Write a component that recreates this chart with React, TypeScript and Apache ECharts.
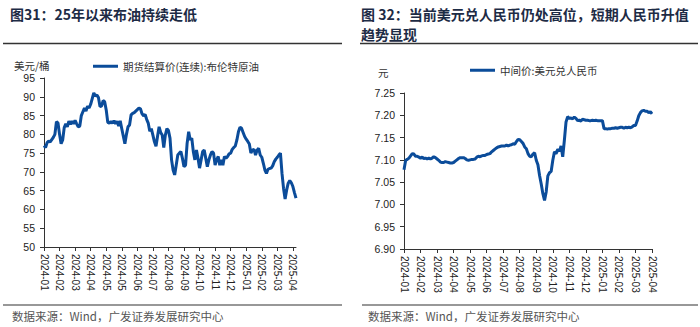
import React, { useEffect, useRef } from "react";
import * as echarts from "echarts";

const leftTitle = "图31：25年以来布油持续走低";
const rightTitle1 = "图 32：当前美元兑人民币仍处高位，短期人民币升值";
const rightTitle2 = "趋势显现";
const sourceText = "数据来源：Wind，广发证券发展研究中心";

const leftUnit = "美元/桶";
const rightUnit = "元";
const leftSeriesName = "期货结算价(连续):布伦特原油";
const rightSeriesName = "中间价:美元兑人民币";

const leftTicks = [
  "2024-01", "2024-02", "2024-03", "2024-04", "2024-05", "2024-05", "2024-06", "2024-07",
  "2024-08", "2024-09", "2024-10", "2024-11", "2024-12", "2025-01", "2025-02", "2025-03", "2025-04",
];
const rightTicks = [
  "2024-01", "2024-02", "2024-03", "2024-04", "2024-05", "2024-06", "2024-07", "2024-08",
  "2024-09", "2024-10", "2024-11", "2024-12", "2025-01", "2025-02", "2025-03", "2025-04",
];

// Brent futures settlement (USD/bbl)
const brent = [
  77.0, 76.5, 77.8, 78.2, 78.0, 78.6, 79.2, 80.0, 83.4, 83.0,
  80.0, 77.5, 78.5, 81.8, 82.8, 82.0, 83.5, 82.7, 83.5, 82.8,
  83.7, 82.8, 82.0, 82.2, 85.0, 86.0, 87.0, 86.2, 87.5, 87.0,
  88.0, 89.5, 91.0, 90.2, 90.5, 89.8, 87.4, 87.5, 89.0, 88.7,
  86.5, 83.2, 83.0, 83.4, 83.0, 83.6, 82.8, 83.5, 82.2, 83.6,
  81.5, 79.5, 77.5, 80.0, 82.0, 82.5, 85.2, 85.6, 85.8, 86.2,
  86.6, 87.0, 86.8, 85.5, 84.9, 85.3, 84.0, 83.0, 80.8, 81.5,
  79.8, 78.0, 76.8, 79.5, 82.0, 80.5, 79.8, 76.5, 79.8, 81.5,
  81.0, 79.0, 73.2, 70.5, 69.2, 71.8, 74.5, 75.0, 75.4, 73.6,
  71.4, 71.8, 77.6, 80.7, 78.5, 79.0, 75.4, 73.2, 75.8, 73.6,
  71.0, 73.2, 75.4, 75.8, 73.6, 71.4, 73.2, 74.5, 75.4, 75.0,
  71.8, 73.2, 74.1, 71.8, 73.2, 71.8, 74.1, 73.6, 74.1, 74.8,
  75.0, 76.0, 76.5, 76.9, 78.5, 80.7, 81.9, 81.6, 80.5, 79.4,
  78.7, 78.1, 77.4, 75.0, 75.8, 76.0, 74.5, 75.8, 76.3, 74.5,
  73.9, 72.3, 70.5, 69.6, 70.7, 70.9, 71.0, 71.6, 72.7, 73.4,
  73.9, 74.5, 75.0, 69.6, 65.6, 62.8, 65.2, 67.0, 67.7, 67.1,
  66.1, 64.5, 63.0,
];

// USD/CNY central parity
const usdcny = [
  7.078, 7.099, 7.101, 7.104, 7.109, 7.114, 7.113, 7.108, 7.108, 7.106,
  7.104, 7.106, 7.103, 7.104, 7.102, 7.104, 7.102, 7.104, 7.107, 7.105,
  7.102, 7.099, 7.095, 7.094, 7.094, 7.096, 7.095, 7.094, 7.093, 7.093,
  7.094, 7.097, 7.100, 7.103, 7.105, 7.105, 7.105, 7.103, 7.100, 7.099,
  7.100, 7.101, 7.101, 7.102, 7.106, 7.108, 7.107, 7.109, 7.110, 7.110,
  7.112, 7.113, 7.114, 7.118, 7.121, 7.124, 7.127, 7.129, 7.130, 7.131,
  7.131, 7.131, 7.133, 7.131, 7.133, 7.134, 7.136, 7.135, 7.141, 7.146,
  7.145, 7.141, 7.137, 7.129, 7.125, 7.114, 7.108, 7.107, 7.113, 7.116,
  7.099, 7.089, 7.065, 7.046, 7.024, 7.009, 7.028, 7.064, 7.071, 7.074,
  7.099, 7.118, 7.114, 7.124, 7.119, 7.131, 7.107, 7.144, 7.185, 7.197,
  7.193, 7.194, 7.192, 7.196, 7.193, 7.188, 7.189, 7.187, 7.191, 7.190,
  7.189, 7.189, 7.188, 7.188, 7.189, 7.188, 7.189, 7.188, 7.188, 7.188,
  7.188, 7.170, 7.170, 7.169, 7.170, 7.170, 7.171, 7.171, 7.172, 7.171,
  7.172, 7.173, 7.173, 7.171, 7.173, 7.172, 7.173, 7.172, 7.174, 7.177,
  7.177, 7.187, 7.199, 7.206, 7.210, 7.211, 7.209, 7.209, 7.206, 7.208,
  7.203,
];

const STEP = 10;
const LINE_COLOR = "#0B4C9A";
const AXIS_COLOR = "#333333";
const CJK = "Noto Sans CJK SC";
const LATIN = "Liberation Sans";

function makeXAxis(gridIndex: number, n: number, ticks: string[]) {
  return {
    type: "category",
    gridIndex,
    boundaryGap: false,
    data: Array.from({ length: n }, (_, i) => String(i)),
    axisLine: { lineStyle: { color: AXIS_COLOR, width: 1 } },
    axisTick: { interval: STEP - 1, length: 4, lineStyle: { color: AXIS_COLOR } },
    axisLabel: {
      interval: STEP - 1,
      rotate: -90,
      margin: 7,
      fontSize: 10,
      fontFamily: LATIN,
      color: "#222",
      formatter: (_v: string, idx: number) => (idx % STEP === 0 ? ticks[idx / STEP] ?? "" : ""),
    },
    splitLine: { show: false },
  };
}

export default function App() {
  const ref = useRef<HTMLDivElement>(null);
  useEffect(() => {
    document.body.style.margin = "0";
    if (!ref.current) return;
    const chart = echarts.init(ref.current, undefined, { renderer: "svg" });
    const titleStyle = { font: `bold 14px "${CJK}"`, fill: "#1d2b45" };
    const srcStyle = { font: `11.5px "${CJK}"`, fill: "#555555" };
    chart.setOption({
      animation: false,
      backgroundColor: "#ffffff",
      grid: [
        { left: 44, top: 78, width: 252, height: 169 },
        { left: 404, top: 93, width: 248, height: 156 },
      ],
      legend: [
        {
          data: [leftSeriesName],
          left: 88,
          top: 56,
          icon: "rect",
          itemWidth: 25,
          itemHeight: 3,
          textStyle: { fontSize: 10.5, fontFamily: CJK, color: "#333" },
        },
        {
          data: [rightSeriesName],
          left: 465,
          top: 60,
          icon: "rect",
          itemWidth: 25,
          itemHeight: 3,
          textStyle: { fontSize: 10.5, fontFamily: CJK, color: "#333" },
        },
      ],
      xAxis: [makeXAxis(0, brent.length, leftTicks), makeXAxis(1, usdcny.length, rightTicks)],
      yAxis: [
        {
          type: "value",
          gridIndex: 0,
          min: 50,
          max: 95,
          interval: 5,
          axisLine: { show: true, lineStyle: { color: AXIS_COLOR } },
          axisTick: { show: true, length: 4, lineStyle: { color: AXIS_COLOR } },
          axisLabel: { fontSize: 10.5, fontFamily: LATIN, color: "#222", margin: 9 },
          splitLine: { show: false },
        },
        {
          type: "value",
          gridIndex: 1,
          min: 6.9,
          max: 7.25,
          interval: 0.05,
          axisLine: { show: true, lineStyle: { color: AXIS_COLOR } },
          axisTick: { show: true, length: 4, lineStyle: { color: AXIS_COLOR } },
          axisLabel: {
            fontSize: 10.5,
            fontFamily: LATIN,
            color: "#222",
            margin: 9,
            formatter: (v: number) => v.toFixed(2),
          },
          splitLine: { show: false },
        },
      ],
      series: [
        {
          name: leftSeriesName,
          type: "line",
          xAxisIndex: 0,
          yAxisIndex: 0,
          data: brent,
          symbol: "none",
          color: LINE_COLOR,
          lineStyle: { width: 3, color: LINE_COLOR },
        },
        {
          name: rightSeriesName,
          type: "line",
          xAxisIndex: 1,
          yAxisIndex: 1,
          data: usdcny,
          symbol: "none",
          color: LINE_COLOR,
          lineStyle: { width: 3, color: LINE_COLOR },
        },
      ],
      graphic: [
        { type: "text", x: 10, y: 14, style: { ...titleStyle, text: leftTitle, verticalAlign: "middle" } },
        { type: "text", x: 361, y: 14, style: { ...titleStyle, text: rightTitle1, verticalAlign: "middle" } },
        { type: "text", x: 361, y: 34, style: { ...titleStyle, text: rightTitle2, verticalAlign: "middle" } },
        { type: "line", shape: { x1: 3, y1: 43.5, x2: 342, y2: 43.5 }, style: { stroke: "#333", lineWidth: 1.5 } },
        { type: "line", shape: { x1: 360, y1: 43.5, x2: 698, y2: 43.5 }, style: { stroke: "#333", lineWidth: 1.5 } },
        { type: "line", shape: { x1: 3, y1: 305, x2: 342, y2: 305 }, style: { stroke: "#333", lineWidth: 1.2 } },
        { type: "line", shape: { x1: 362, y1: 305, x2: 698, y2: 305 }, style: { stroke: "#333", lineWidth: 1.2 } },
        { type: "text", x: 12, y: 316, style: { ...srcStyle, text: sourceText, verticalAlign: "middle" } },
        { type: "text", x: 368, y: 316, style: { ...srcStyle, text: sourceText, verticalAlign: "middle" } },
        {
          type: "text",
          x: 14,
          y: 65,
          style: { font: `10.5px "${CJK}"`, fill: "#333", text: leftUnit, verticalAlign: "middle" },
        },
        {
          type: "text",
          x: 378,
          y: 72,
          style: { font: `10.5px "${CJK}"`, fill: "#333", text: rightUnit, verticalAlign: "middle" },
        },
      ],
    });
    return () => chart.dispose();
  }, []);
  return <div ref={ref} style={{ width: 700, height: 327 }} />;
}
